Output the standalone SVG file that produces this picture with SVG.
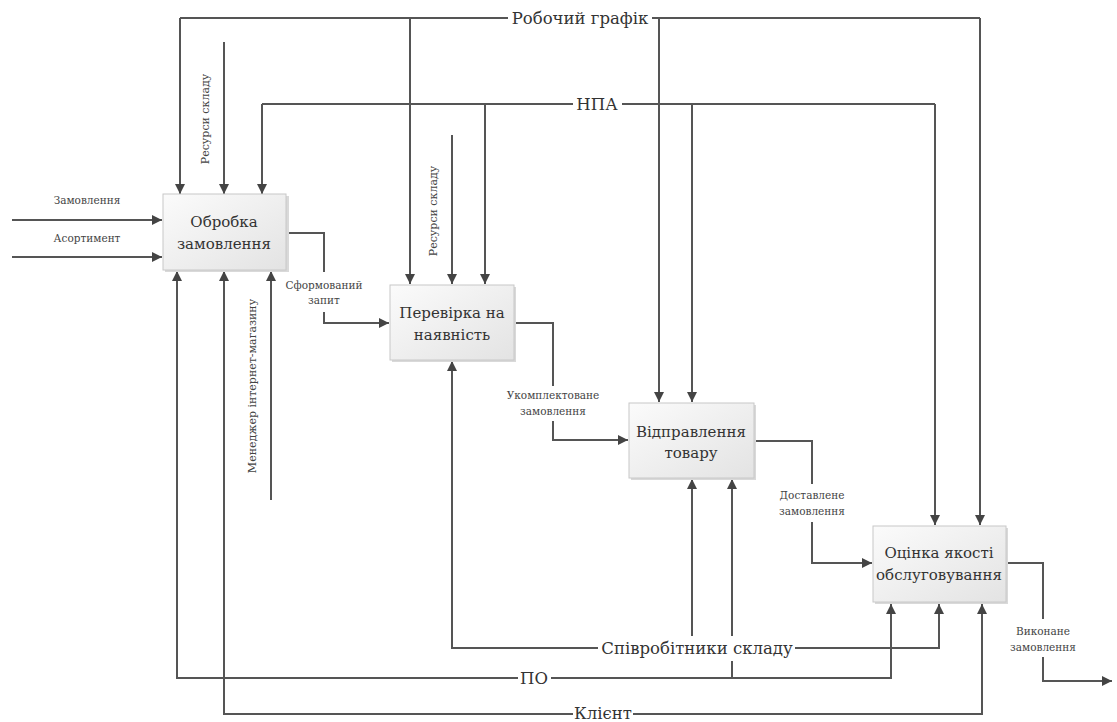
<svg xmlns="http://www.w3.org/2000/svg" width="1117" height="722" viewBox="0 0 1117 722">
<defs>
<linearGradient id="bg" x1="0" y1="0" x2="1" y2="1">
<stop offset="0" stop-color="#fbfbfb"/>
<stop offset="1" stop-color="#e3e3e3"/>
</linearGradient>
<marker id="ah" viewBox="0 0 10 10" refX="10" refY="5" markerWidth="10" markerHeight="10" markerUnits="userSpaceOnUse" orient="auto">
<path d="M0,0 L10,5 L0,10 Z" fill="#444"/>
</marker>
<style>
.c{fill:none;stroke:#555;stroke-width:2}
.a{marker-end:url(#ah)}
.box{fill:url(#bg);stroke:#c8c8c8;stroke-width:1}
.sh{fill:#d9d9d9}
text{font-family:'DejaVu Serif','Liberation Serif',serif;text-anchor:middle}
.bt{font-size:15px;fill:#333}
.sl{font-size:10.5px;fill:#444}
.rl{font-size:11px;fill:#444}
.bl{font-size:16.5px;fill:#333}
</style>
</defs>
<rect width="1117" height="722" fill="#fff"/>
<g id="connectors">
<path class="c a" d="M12,220 H162"/>
<path class="c a" d="M12,257 H162"/>
<path class="c a" d="M224,42 V194"/>
<path class="c" d="M180,18 H508"/>
<path class="c" d="M652,18 H980"/>
<path class="c a" d="M180,18 V194"/>
<path class="c a" d="M410,18 V284"/>
<path class="c a" d="M659,18 V402"/>
<path class="c a" d="M980,18 V525"/>
<path class="c" d="M262,104 H573"/>
<path class="c" d="M622,104 H935"/>
<path class="c a" d="M262,104 V194"/>
<path class="c a" d="M485,104 V284"/>
<path class="c a" d="M692,104 V402"/>
<path class="c a" d="M935,104 V525"/>
<path class="c a" d="M452,135 V284"/>
<path class="c" d="M286,233 H324 V272"/>
<path class="c a" d="M324,312 V323 H389"/>
<path class="c" d="M514,323 H553 V386"/>
<path class="c a" d="M553,421 V440 H628"/>
<path class="c" d="M754,441 H812 V484"/>
<path class="c a" d="M812,522 V563 H872"/>
<path class="c" d="M1006,563 H1043 V619"/>
<path class="c a" d="M1043,657 V681 H1112"/>
<path class="c a" d="M518,678 H177 V271"/>
<path class="c a" d="M551,678 H891 V604"/>
<path class="c" d="M732,678 V661"/>
<path class="c a" d="M732,636 V479"/>
<path class="c a" d="M598,648 H452 V361"/>
<path class="c a" d="M795,648 H939 V604"/>
<path class="c a" d="M692,636 V479"/>
<path class="c a" d="M573,714 H224 V271"/>
<path class="c a" d="M633,714 H982 V604"/>
<path class="c a" d="M271,500 V271"/>
</g>
<g id="labels">
<text class="bl" x="580" y="24">Робочий графік</text>
<text class="bl" x="597" y="110">НПА</text>
<text class="bl" x="534" y="684">ПО</text>
<text class="bl" x="697" y="654">Співробітники складу</text>
<text class="bl" x="603" y="719">Клієнт</text>
<text class="sl" x="87" y="204">Замовлення</text>
<text class="sl" x="87" y="242">Асортимент</text>
<text class="sl" x="324" y="289">Сформований</text>
<text class="sl" x="324" y="304">запит</text>
<text class="sl" x="553" y="399">Укомплектоване</text>
<text class="sl" x="553" y="415">замовлення</text>
<text class="sl" x="812" y="499">Доставлене</text>
<text class="sl" x="812" y="515">замовлення</text>
<text class="sl" x="1043" y="635">Виконане</text>
<text class="sl" x="1043" y="651">замовлення</text>
<text class="rl" transform="translate(209,119) rotate(-90)">Ресурси складу</text>
<text class="rl" transform="translate(437,211) rotate(-90)">Ресурси складу</text>
<text class="rl" transform="translate(256,386) rotate(-90)">Менеджер інтернет-магазину</text>
</g>
<g id="n1">
<rect class="sh" x="165" y="196" width="124" height="76"/>
<rect class="box" x="163" y="194" width="123" height="76"/>
<text class="bt" x="224" y="227">Обробка</text>
<text class="bt" x="224" y="249">замовлення</text>
</g>
<g id="n2">
<rect class="sh" x="392" y="287" width="124" height="75"/>
<rect class="box" x="390" y="285" width="124" height="75"/>
<text class="bt" x="452" y="318">Перевірка на</text>
<text class="bt" x="452" y="340">наявність</text>
</g>
<g id="n3">
<rect class="sh" x="631" y="405" width="125" height="75"/>
<rect class="box" x="629" y="403" width="125" height="75"/>
<text class="bt" x="691" y="437">Відправлення</text>
<text class="bt" x="691" y="458">товару</text>
</g>
<g id="n4">
<rect class="sh" x="875" y="528" width="133" height="76"/>
<rect class="box" x="873" y="526" width="133" height="76"/>
<text class="bt" x="939" y="558">Оцінка якості</text>
<text class="bt" x="939" y="580">обслуговування</text>
</g>
</svg>
